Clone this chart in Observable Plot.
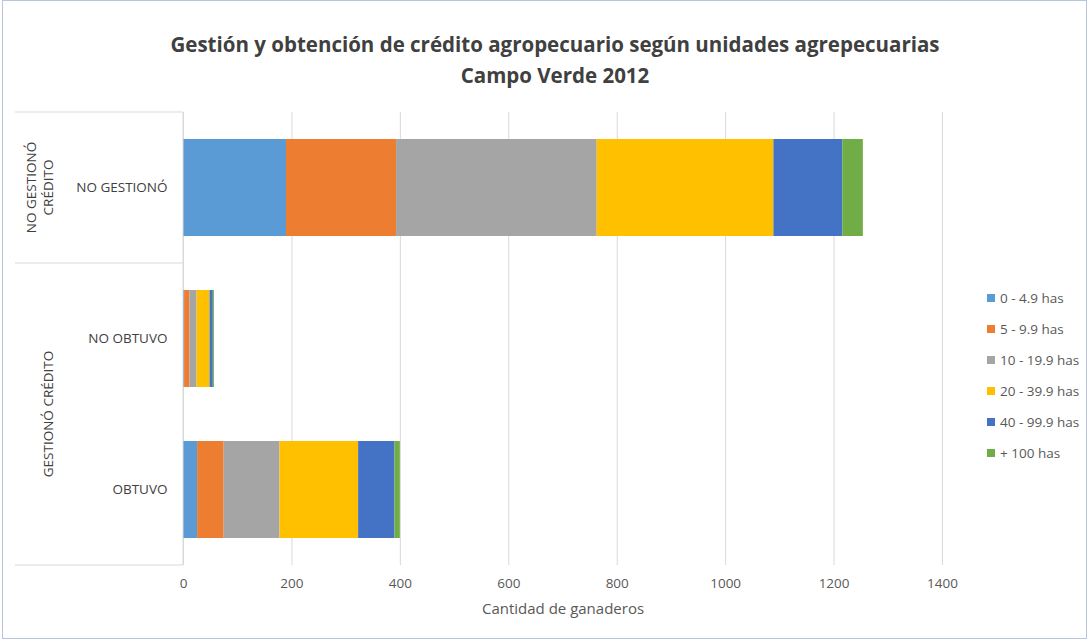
<!DOCTYPE html>
<html><head><meta charset="utf-8">
<script src="https://cdn.jsdelivr.net/npm/d3@7"></script>
<script src="https://cdn.jsdelivr.net/npm/@observablehq/plot@0.6"></script>
<style>
body{margin:0;background:#fff;font-family:"Open Sans",sans-serif;}
#wrap{position:relative;width:1089px;height:641px;box-sizing:border-box;overflow:hidden;}
#frame{position:absolute;left:2px;top:0;width:1085px;height:639px;border:1px solid #b7c6dc;box-sizing:border-box;pointer-events:none;}
#title{position:absolute;left:0;top:29px;width:1110px;text-align:center;font-weight:bold;font-size:20.5px;color:#404040;line-height:31px;}
#legend{position:absolute;left:987px;top:282px;font-size:13.5px;color:#595959;}
#legend div{height:31px;line-height:20px;display:flex;align-items:center;height:31px;}
#legend span.sw{display:inline-block;width:8px;height:8px;margin-right:5px;}
#chart{position:absolute;left:0;top:0;}
</style></head>
<body>
<div id="wrap">
  <div id="chart"></div>
  <div id="title"></div>
  <div id="legend"></div>
  <div id="frame"></div>
</div>
<script>
const titleLines = ["Gestión y obtención de crédito agropecuario según unidades agrepecuarias", "Campo Verde 2012"];
const categories = ["NO GESTIONÓ", "NO OBTUVO", "OBTUVO"];
const groupLabels = [["NO GESTIONÓ", "CRÉDITO"], ["GESTIONÓ CRÉDITO"]];
const groupMembers = [["NO GESTIONÓ"], ["NO OBTUVO", "OBTUVO"]];
const sizes = ["0 - 4.9 has", "5 - 9.9 has", "10 - 19.9 has", "20 - 39.9 has", "40 - 99.9 has", "+ 100 has"];
const colors = ["#5B9BD5", "#ED7D31", "#A5A5A5", "#FFC000", "#4472C4", "#70AD47"];
const v0_5 = [190, 2, 26];
const v5_10 = [203, 10, 49];
const v10_20 = [370, 13, 103];
const v20_40 = [326, 24, 145];
const v40_100 = [127, 6, 67];
const v100 = [38, 2, 10];
const xTicks = [0, 200, 400, 600, 800, 1000, 1200, 1400];
const xLabel = "Cantidad de ganaderos";

const series = [v0_5, v5_10, v10_20, v20_40, v40_100, v100];
const data = [];
series.forEach((vals, si) => vals.forEach((v, ci) => data.push({size: sizes[si], cat: categories[ci], value: v})));

document.getElementById("title").innerHTML = titleLines.map(t => `<div>${t}</div>`).join("");
document.getElementById("legend").innerHTML = sizes.map((s, i) => `<div><span class="sw" style="background:${colors[i]}"></span>${s}</div>`).join("");

const plot = Plot.plot({
  width: 1089, height: 641,
  marginLeft: 183, marginRight: 147, marginTop: 112, marginBottom: 76,
  style: {fontFamily: "'Open Sans', sans-serif", fontSize: "13px", color: "#595959", background: "transparent"},
  x: {domain: [0, 1400], ticks: xTicks},
  y: {domain: categories, paddingInner: 0.36, paddingOuter: 0.18},
  color: {domain: sizes, range: colors},
  marks: [
    Plot.gridX(xTicks, {stroke: "#d9d9d9", strokeOpacity: 1}),
    Plot.barX(data, {x: "value", y: "cat", fill: "size", order: sizes}),
    Plot.axisX({ticks: xTicks, tickFormat: d => String(d), tickSize: 0, tickPadding: 13, fontSize: 13.5, label: null, fill: "#595959"}),
    Plot.axisX({ticks: [], label: xLabel, labelAnchor: "center", labelArrow: "none", labelOffset: 48, fontSize: 15, fill: "#595959"}),
    Plot.axisY({tickSize: 0, tickPadding: 16, label: null, fontSize: 13.5, fill: "#404040"})
  ]
});
document.getElementById("chart").appendChild(plot);

// hierarchical category axis boxes and group labels
const svg = d3.select(plot);
const y = plot.scale("y");
const step = y.step;
const gx0 = 15, gx1 = 183;
const bounds = groupMembers.map(m => [y.apply(m[0]) - (step - y.bandwidth) / 2, y.apply(m[m.length - 1]) + y.bandwidth + (step - y.bandwidth) / 2]);
const edges = [bounds[0][0], ...bounds.map(b => b[1])];
const g = svg.append("g");
edges.forEach(e => g.append("line").attr("x1", gx0).attr("x2", gx1).attr("y1", e).attr("y2", e).attr("stroke", "#d9d9d9"));
g.append("line").attr("x1", gx1).attr("x2", gx1).attr("y1", edges[0]).attr("y2", edges[edges.length - 1]).attr("stroke", "#d9d9d9");
groupLabels.forEach((lines, gi) => {
  const cy = (bounds[gi][0] + bounds[gi][1]) / 2;
  const n = lines.length;
  lines.forEach((t, li) => {
    const cx = 48 - (n - 1 - li) * 17;
    g.append("text").attr("transform", `translate(${cx},${cy}) rotate(-90)`)
      .attr("text-anchor", "middle").attr("dy", "0.35em")
      .attr("font-size", 13.5).attr("fill", "#404040").text(t);
  });
});
</script>
</body></html>
